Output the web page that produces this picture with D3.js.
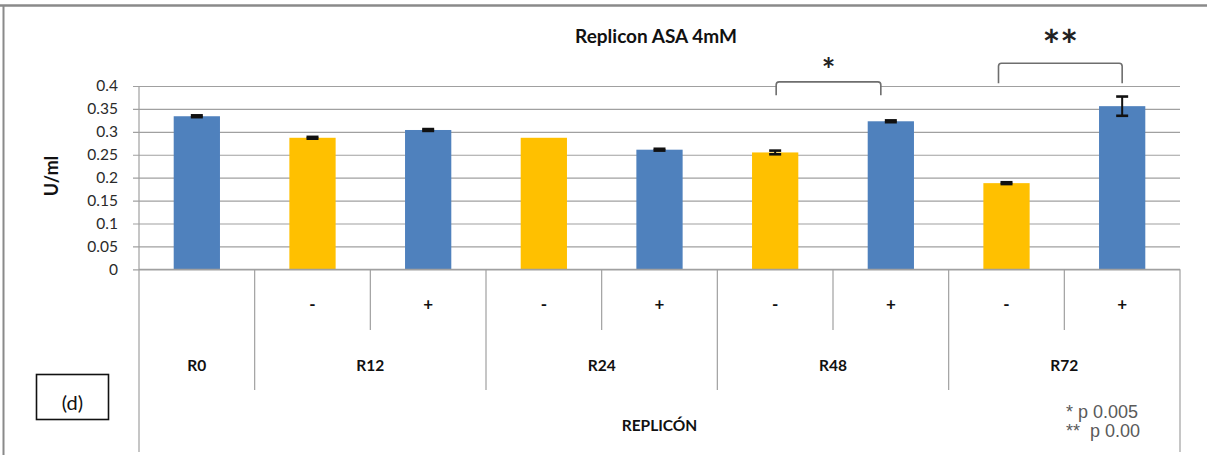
<!DOCTYPE html>
<html>
<head>
<meta charset="utf-8">
<script src="https://cdn.jsdelivr.net/npm/d3@7"></script>
<style>
  html, body { margin: 0; padding: 0; background: #fff; }
  svg { display: block; }
  text { font-family: Lato, "Open Sans", sans-serif; }
</style>
</head>
<body>
<svg id="chart" width="1207" height="455"></svg>
<script>
// ---- data ----
const groups    = ["R0", "R12", "R24", "R48", "R72"];
const groupSpan = [1, 2, 2, 2, 2];              // bars under each group label
const treatment = ["", "-", "+", "-", "+", "-", "+", "-", "+"];
const values    = [0.334, 0.287, 0.304, 0.287, 0.261, 0.255, 0.323, 0.188, 0.356];
const errors    = [0.002, 0.002, 0.002, 0, 0.002, 0.004, 0.002, 0.002, 0.021];
const yTicks    = [0, 0.05, 0.1, 0.15, 0.2, 0.25, 0.3, 0.35, 0.4];
const yTickText = ["0", "0.05", "0.1", "0.15", "0.2", "0.25", "0.3", "0.35", "0.4"];
const sigMarks  = ["*", "**"];
const sigFrom   = [5, 7];
const sigTo     = [6, 8];
const notes     = ["* p 0.005", "**  p 0.00"];

const title  = "Replicon ASA 4mM";
const yTitle = "U/ml";
const xTitle = "REPLICÓN";
const panel  = "(d)";

const BLUE = "#4f81bd", GOLD = "#ffc000", GRID = "#a0a0a0";

const svg = d3.select("#chart");

// outer frame
svg.append("line").attr("x1", 0).attr("x2", 1207).attr("y1", 5.5).attr("y2", 5.5)
  .attr("stroke", "#8a8a8a").attr("stroke-width", 2.5);
svg.append("line").attr("x1", 3.5).attr("x2", 3.5).attr("y1", 5).attr("y2", 455)
  .attr("stroke", "#8a8a8a").attr("stroke-width", 2);

const plot = { left: 139, right: 1180, top: 86, bottom: 269.3 };

const x = d3.scaleBand().domain(d3.range(values.length))
  .range([plot.left, plot.right]).paddingInner(0).paddingOuter(0);
const y = d3.scaleLinear().domain([0, 0.4]).range([plot.bottom, plot.top]);
const barW = x.bandwidth() * 0.4;
const cx = i => x(i) + x.bandwidth() / 2;

// gridlines + y axis
const yAxis = d3.axisLeft(y).tickValues(yTicks)
  .tickFormat((d, i) => yTickText[i])
  .tickSize(-(plot.right - plot.left)).tickPadding(21);
const ga = svg.append("g").attr("transform", `translate(${plot.left},0)`).call(yAxis);
ga.select(".domain").remove();
ga.selectAll(".tick line").attr("stroke", GRID).attr("stroke-width", 1.2).attr("x1", -6);
ga.selectAll(".tick text").attr("fill", "#2a2a2a").style("font-size", "15.5px")
  .style("font-family", "Lato, sans-serif");
svg.append("line").attr("x1", plot.left).attr("x2", plot.left)
  .attr("y1", plot.top).attr("y2", 452).attr("stroke", GRID).attr("stroke-width", 1.2);

// bars
svg.append("g").selectAll("rect").data(values).join("rect")
  .attr("x", (d, i) => cx(i) - barW / 2)
  .attr("width", barW)
  .attr("y", d => y(d))
  .attr("height", d => y(0) - y(d))
  .attr("fill", (d, i) => treatment[i] === "-" ? GOLD : BLUE);

// error bars
const eb = svg.append("g").attr("stroke", "#111");
values.forEach((v, i) => {
  const e = errors[i];
  if (!e) return;
  const hi = y(v + e), lo = y(v - e);
  eb.append("line").attr("x1", cx(i)).attr("x2", cx(i)).attr("y1", hi).attr("y2", lo)
    .attr("stroke-width", 2);
  [hi, lo].forEach(yy => eb.append("line")
    .attr("x1", cx(i) - 6).attr("x2", cx(i) + 6).attr("y1", yy).attr("y2", yy)
    .attr("stroke-width", 2.6));
});

// category axis: outer lines, group separators, sub separators
const axisG = svg.append("g").attr("stroke", GRID).attr("stroke-width", 1.2);
axisG.append("line").attr("x1", plot.left).attr("x2", plot.right)
  .attr("y1", plot.bottom).attr("y2", plot.bottom);
axisG.append("line").attr("x1", plot.right).attr("x2", plot.right)
  .attr("y1", plot.bottom).attr("y2", 452);

let start = 0;
const groupCenters = [];
groups.forEach((g, gi) => {
  const n = groupSpan[gi];
  const x0 = x(start), x1 = x(start + n - 1) + x.bandwidth();
  groupCenters.push((x0 + x1) / 2);
  if (gi > 0) axisG.append("line").attr("x1", x0).attr("x2", x0)
    .attr("y1", plot.bottom).attr("y2", 390);
  for (let k = 1; k < n; k++) {
    const xs = x(start + k);
    axisG.append("line").attr("x1", xs).attr("x2", xs)
      .attr("y1", plot.bottom).attr("y2", 330);
  }
  start += n;
});

// treatment labels
svg.append("g").selectAll("text").data(treatment).join("text")
  .attr("x", (d, i) => cx(i)).attr("y", 310)
  .attr("text-anchor", "middle").style("font-size", "17px").style("font-weight", 700)
  .attr("fill", "#111").text(d => d);

// group labels
svg.append("g").selectAll("text").data(groups).join("text")
  .attr("x", (d, i) => groupCenters[i]).attr("y", 371)
  .attr("text-anchor", "middle").style("font-size", "15.5px").style("font-weight", 700)
  .attr("fill", "#111").text(d => d);

// axis title
svg.append("text").attr("x", (plot.left + plot.right) / 2).attr("y", 431)
  .attr("text-anchor", "middle").style("font-size", "15.5px").style("font-weight", 700)
  .attr("fill", "#111").text(xTitle);

svg.append("text").attr("transform", `translate(58,176) rotate(-90)`)
  .attr("text-anchor", "middle").style("font-size", "18px").style("font-weight", 700)
  .attr("fill", "#111").text(yTitle);

// chart title
svg.append("text").attr("x", 656).attr("y", 43)
  .attr("text-anchor", "middle").style("font-size", "19px").style("font-weight", 700)
  .attr("fill", "#111").text(title);

// significance brackets
const bracketTop = [0.409, 0.4495], bracketLeg = [0.380, 0.406];
const bracketInset = [[1, -10], [-8, 0]];
const markSize = [32, 42];
const markCenter = [65, 38];
sigMarks.forEach((m, k) => {
  const xl = cx(sigFrom[k]) + bracketInset[k][0];
  const xr = cx(sigTo[k]) + bracketInset[k][1];
  const yt = y(bracketTop[k]), yb = y(bracketLeg[k]);
  const r = 3;
  const p = d3.path();
  p.moveTo(xl, yb); p.lineTo(xl, yt + r);
  p.quadraticCurveTo(xl, yt, xl + r, yt);
  p.lineTo(xr - r, yt);
  p.quadraticCurveTo(xr, yt, xr, yt + r);
  p.lineTo(xr, yb);
  svg.append("path").attr("d", p.toString()).attr("fill", "#fff")
    .attr("stroke", "#6e6e6e").attr("stroke-width", 1.6);
  svg.append("text").attr("x", (xl + xr) / 2)
    .attr("y", markCenter[k] + markSize[k] * 0.54)
    .attr("text-anchor", "middle")
    .style("font-size", markSize[k] + "px").style("font-weight", 700)
    .attr("fill", "#222").text(m);
});

// panel tag
svg.append("rect").attr("x", 36.5).attr("y", 374.5).attr("width", 72).attr("height", 45)
  .attr("fill", "#fff").attr("stroke", "#111").attr("stroke-width", 1.6);
svg.append("text").attr("x", 72.5).attr("y", 410).attr("text-anchor", "middle")
  .style("font-size", "20px").attr("fill", "#111").text(panel);

// p-value notes
svg.append("g").selectAll("text").data(notes).join("text")
  .attr("x", 1066).attr("y", (d, i) => 418 + i * 19)
  .style("font-family", "'Liberation Sans Narrow', 'Arial Narrow', sans-serif")
  .style("font-size", "18px").attr("fill", "#5a5a5a")
  .attr("xml:space", "preserve")
  .text(d => d);
</script>
</body>
</html>
